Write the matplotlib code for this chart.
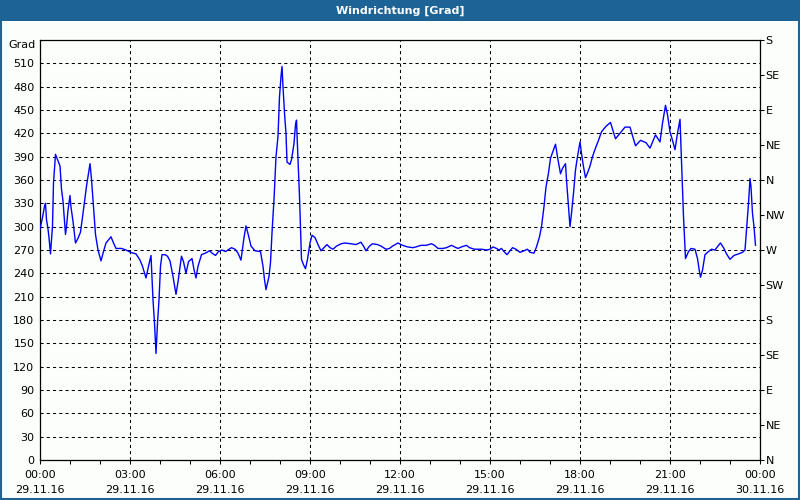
import matplotlib
matplotlib.use('Agg')
import matplotlib.pyplot as plt
from matplotlib.patches import Rectangle
from matplotlib.ticker import MultipleLocator
import numpy as np

# ---- data (time in minutes since 29.11.16 00:00, wind direction in degrees) ----
minutes = [0, 5, 9, 11, 13, 16, 18, 21, 25, 27, 31, 34, 40, 43, 46, 51, 53, 56, 60, 62,
           66, 71, 76, 81, 86, 93, 100, 103, 107, 111, 116, 122, 127, 132, 142, 147, 152,
           163, 172, 181, 192, 200, 205, 212, 217, 222, 226, 229, 232, 235, 238, 241, 244,
           250, 255, 260, 266, 272, 276, 283, 287, 292, 297, 304, 308, 312, 316, 323, 331,
           339, 344, 351,
           357, 364, 371, 383, 390, 396, 402, 408, 412, 418, 422, 430, 441, 446, 449, 452,
           458, 461, 464, 468, 472, 476, 479, 482, 484, 486, 489, 492, 494, 500, 503, 508,
           511, 513, 516, 519, 523, 527, 531, 535, 540, 544, 550, 556, 562, 568, 574, 580,
           586, 593, 602, 610, 622, 632, 642, 647, 652, 659, 665, 675, 682, 692, 699, 705,
           716,
           725, 735, 746, 752, 762, 772, 783, 789, 796, 806, 813, 823, 829, 836, 843, 853,
           859, 869, 883, 894, 900, 906, 913, 918, 923, 928, 934, 940, 945, 952, 960, 968,
           975,
           980, 988, 993, 999, 1003, 1008, 1012, 1017, 1021, 1027, 1031, 1036, 1041, 1045,
           1051, 1053, 1057, 1060, 1063, 1067, 1071, 1075, 1080, 1083, 1087, 1091, 1095,
           1100, 1105, 1111, 1117, 1123, 1132, 1141, 1151, 1160, 1170, 1180, 1191, 1201,
           1212, 1220, 1231, 1240, 1245, 1251, 1255, 1260, 1265, 1270, 1275, 1280, 1283,
           1287, 1291, 1297, 1302, 1310, 1315, 1319, 1321, 1325, 1330, 1337, 1343, 1350,
           1357, 1361, 1367, 1373, 1380, 1388, 1397, 1405, 1410, 1413, 1417, 1420, 1422,
           1425, 1428, 1431]

direction = [297, 312, 326, 330, 309, 297, 286, 265, 301, 356, 393, 388, 378, 348, 333, 290, 300, 321, 340, 325,
             307, 279, 285, 293, 317, 352, 381, 361, 326, 290, 270, 256, 268, 279, 287, 279, 272,
             272, 270, 267, 265, 257, 249, 234, 249, 263, 206, 176, 137, 176, 206, 249, 264,
             264, 262, 256, 236, 213, 229, 262, 255, 240, 255, 259, 245, 234, 249, 264, 266,
             269, 266, 263,
             268, 270, 268, 273, 271, 266, 257, 286, 301, 286, 275, 269, 268, 249, 232, 219,
             236, 254, 292, 335, 390, 416, 467, 493, 506, 480, 446, 420, 383, 380, 386, 407,
             431, 437, 386, 339, 258, 251, 246, 258, 279, 289, 286, 277, 269, 273, 277, 273,
             271, 275, 278, 279, 278, 277, 280, 275, 269, 275, 278, 277, 275, 271, 272, 275,
             279,
             276, 274, 273, 274, 276, 276, 278, 276, 272, 272, 273, 276, 274, 272, 274, 276,
             273, 271, 271, 270, 271, 274, 272, 270, 272, 268, 264, 269, 273, 271, 267, 269,
             271,
             267, 266, 274, 287, 300, 326, 351, 369, 388, 399, 406, 386, 368, 375,
             381, 360, 326, 300, 317, 343, 373, 390, 409, 394, 377, 363, 369,
             378, 390, 401, 411, 422, 429, 434, 413, 420, 428, 428, 404, 411,
             408, 401, 418, 409, 433, 456, 444, 422, 411, 399, 420, 438, 386,
             313, 259, 268, 272, 271, 259, 242, 235, 244, 264, 268, 271, 270,
             276, 279, 273, 265, 258, 263, 265, 267, 270, 296, 330, 362, 351,
             317, 300, 276]

hour_ticks = [0, 3, 6, 9, 12, 15, 18, 21, 24]
time_labels = ['00:00', '03:00', '06:00', '09:00', '12:00', '15:00', '18:00', '21:00', '00:00']
date_labels = ['29.11.16'] * 8 + ['30.11.16']
grad_ticks = list(range(0, 511, 30))
compass_ticks = list(range(0, 541, 45))
compass_labels = ['N', 'NE', 'E', 'SE', 'S', 'SW', 'W', 'NW', 'N', 'NE', 'E', 'SE', 'S']

TITLE = 'Windrichtung [Grad]'
BAR = '#1d6395'
BG = '#fbfefb'

plt.rcParams['font.family'] = ['DejaVu Sans']
W, H = 800, 500
fig = plt.figure(figsize=(8, 5), dpi=100, facecolor=BG)

# title bar and frame
fig.patches.append(Rectangle((0, 1 - 21 / H), 1, 21 / H, transform=fig.transFigure,
                             facecolor=BAR, edgecolor='none', zorder=0))
fig.patches.append(Rectangle((0.001, 0.002), 0.998, 0.996, transform=fig.transFigure,
                             fill=False, edgecolor=BAR, linewidth=1.5, zorder=5))
fig.text(0.5, 1 - 11 / H, TITLE, color='white', fontweight='bold',
         ha='center', va='center', fontsize=8)

ax = fig.add_axes([40 / W, 1 - 460 / H, 720 / W, 420 / H])
ax.set_facecolor(BG)
ax.plot(np.array(minutes) / 60.0, direction, color='#0000ff', lw=1.0, zorder=3)
ax.set_xlim(0, 24)
ax.set_ylim(0, 540)

# left axis: degrees, no tick marks
ax.set_yticks(grad_ticks)
ax.set_yticklabels([str(v) for v in grad_ticks], fontsize=8)
ax.tick_params(axis='y', length=0, pad=4)
ax.text(-0.006, 533, 'Grad', transform=ax.get_yaxis_transform(), ha='right', va='center',
        fontsize=8)

# bottom axis
ax.set_xticks(hour_ticks)
ax.set_xticklabels([f'{t}\n{d}' for t, d in zip(time_labels, date_labels)], fontsize=8,
                   linespacing=1.6)
ax.xaxis.set_minor_locator(MultipleLocator(1))
ax.tick_params(axis='x', which='both', length=3, width=0.75, direction='out', pad=4)

ax.grid(True, which='major', color='black', linestyle=(0, (3, 3)), linewidth=0.75)
ax.set_axisbelow(True)
for s in ax.spines.values():
    s.set_color('black')
    s.set_linewidth(0.9)

# right axis: compass
ax2 = ax.twinx()
ax2.set_ylim(0, 540)
ax2.set_yticks(compass_ticks)
ax2.set_yticklabels(compass_labels, fontsize=8)
ax2.tick_params(axis='y', length=3, width=0.75, direction='out', pad=1)
for s in ax2.spines.values():
    s.set_visible(False)

fig.savefig('out.png', dpi=100, facecolor=BG)
